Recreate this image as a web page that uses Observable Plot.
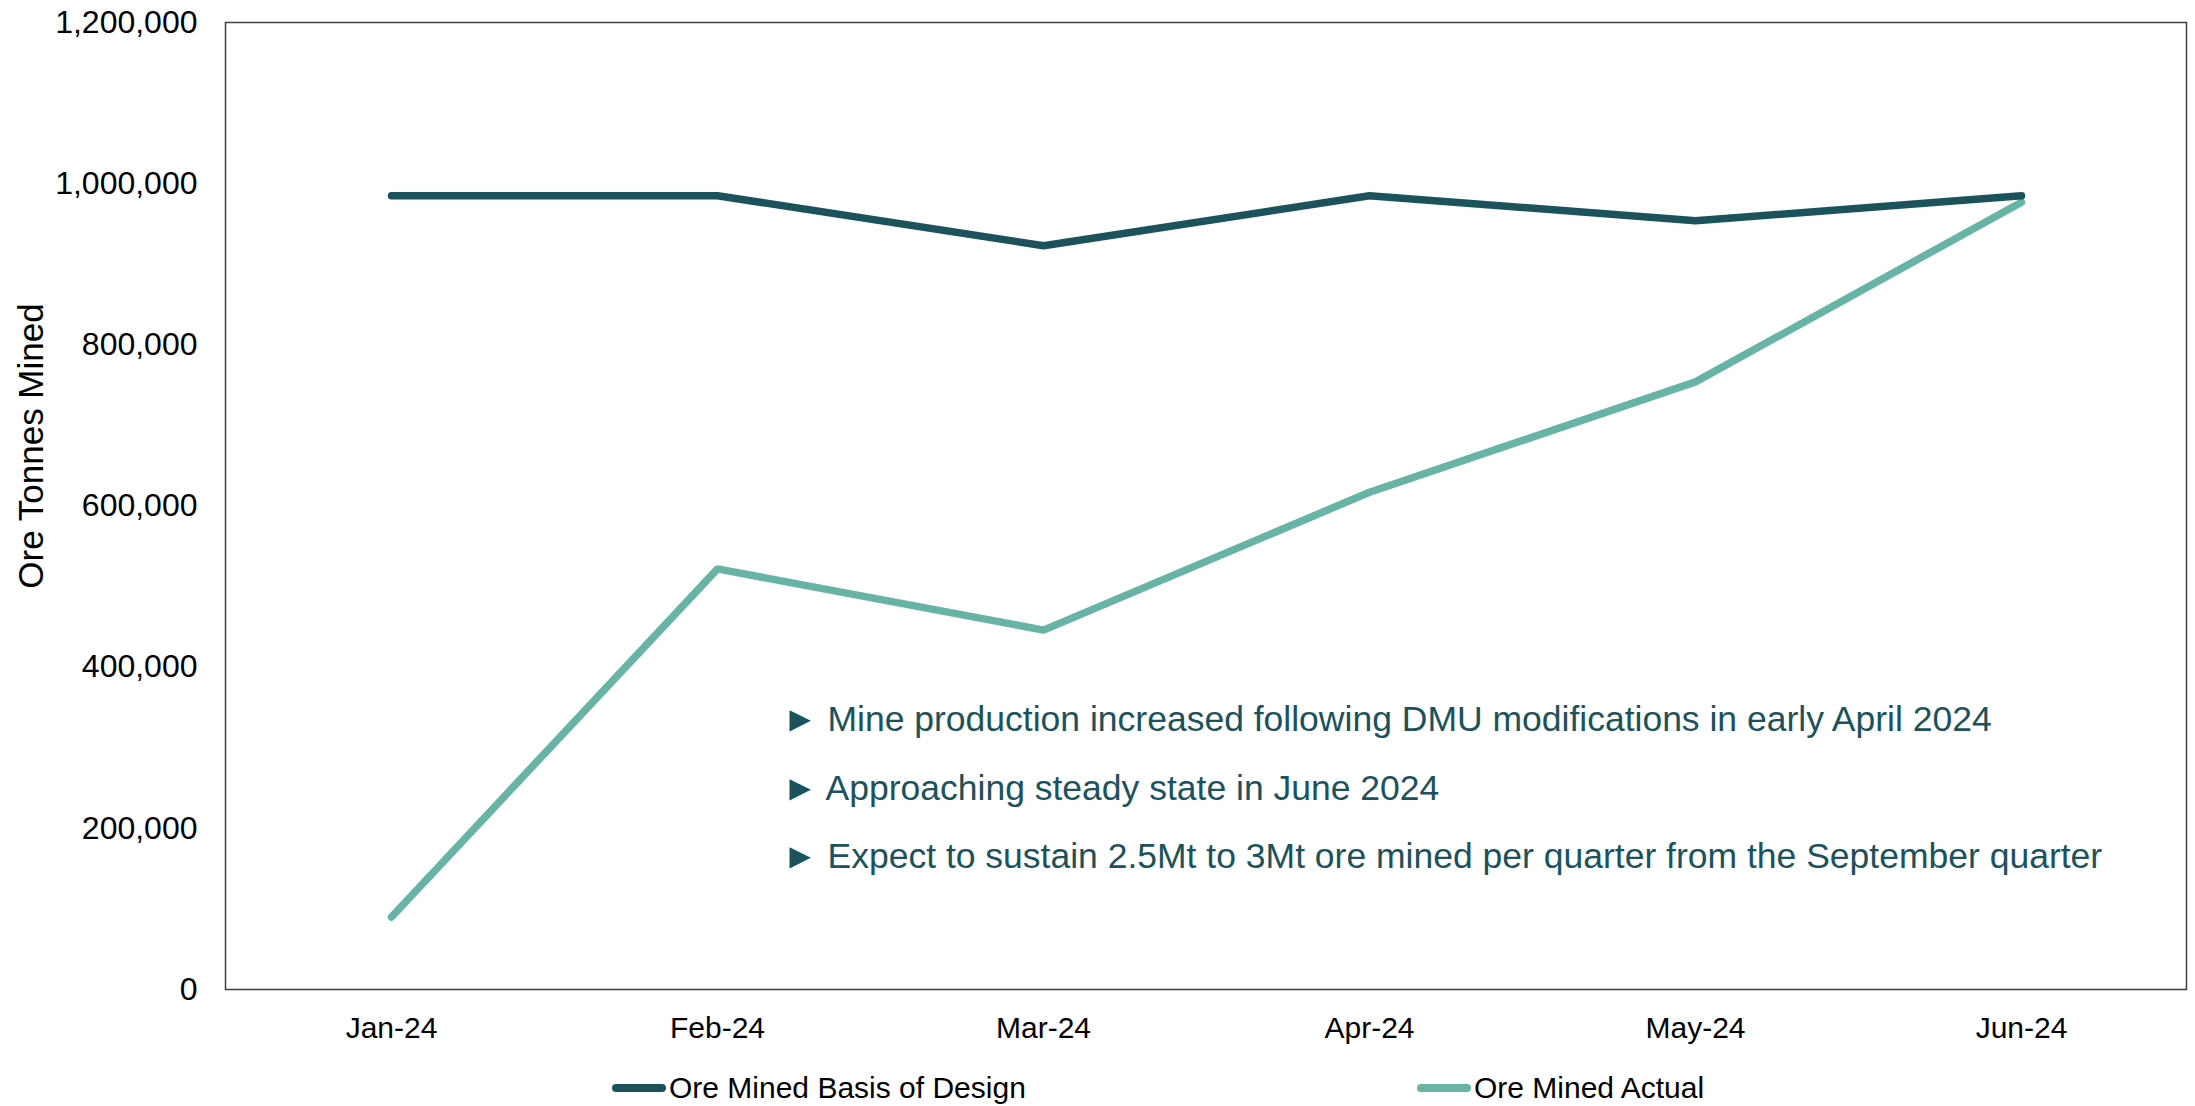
<!DOCTYPE html>
<html>
<head>
<meta charset="utf-8">
<script src="https://cdn.jsdelivr.net/npm/d3@7"></script>
<script src="https://cdn.jsdelivr.net/npm/@observablehq/plot@0.6"></script>
<style>
  html, body { margin: 0; padding: 0; background: #fff; }
  body { width: 2195px; height: 1106px; overflow: hidden; font-family: "Liberation Sans", Arial, sans-serif; }
  #legend { position: relative; height: 40px; width: 2195px; font-size: 30px; color: #000; }
  .item { position: absolute; top: 5px; display: flex; align-items: center; }
  .sw { width: 54px; height: 8px; border-radius: 4px; margin-right: 3px; }
</style>
</head>
<body>
<div id="chart"></div>
<div id="legend"></div>
<script>
const months = ["Jan-24", "Feb-24", "Mar-24", "Apr-24", "May-24", "Jun-24"];
const basisOfDesign = [985000, 985000, 923000, 985000, 954000, 985000];
const oreMinedActual = [90000, 522000, 446000, 617000, 754000, 977000];
const seriesNames = ["Ore Mined Basis of Design", "Ore Mined Actual"];
const seriesColors = ["#1B525B", "#67B3A6"];
const yTicks = [0, 200000, 400000, 600000, 800000, 1000000, 1200000];
const yTitle = "Ore Tonnes Mined";
const notes = [
  "Mine production increased following DMU modifications in early April 2024",
  "Approaching steady state in June 2024",
  "Expect to sustain 2.5Mt to 3Mt ore mined per quarter from the September quarter"
];

const designRows = months.map((m, i) => ({month: m, value: basisOfDesign[i]}));
const actualRows = months.map((m, i) => ({month: m, value: oreMinedActual[i]}));

const chart = Plot.plot({
  width: 2195,
  height: 1066,
  marginTop: 22,
  marginBottom: 77,
  marginLeft: 225,
  marginRight: 9,
  style: {fontFamily: "'Liberation Sans', Arial, sans-serif", fontSize: "30px", color: "#000", background: "#fff"},
  x: {type: "point", domain: months, padding: 0.5, label: null},
  y: {domain: [0, 1200000], label: null},
  marks: [
    Plot.frame({stroke: "#404040", strokeWidth: 1.5}),
    Plot.axisY({ticks: yTicks, tickFormat: d3.format(","), tickSize: 0, tickPadding: 28, label: null, fontSize: 32}),
    Plot.axisX({tickSize: 0, tickPadding: 27, label: null, fontSize: 30}),
    Plot.line(actualRows, {x: "month", y: "value", stroke: seriesColors[1], strokeWidth: 7.5, strokeLinejoin: "miter", strokeLinecap: "round"}),
    Plot.line(designRows, {x: "month", y: "value", stroke: seriesColors[0], strokeWidth: 7.5, strokeLinejoin: "miter", strokeLinecap: "round"}),
    Plot.text([yTitle], {frameAnchor: "left", text: d => d, textAnchor: "middle", rotate: -90, dx: -194, dy: -60, fontSize: 35, fill: "#000"}),
    Plot.text([notes.map(n => "\u25BA " + n).join("\n")], {
      frameAnchor: "top-left", text: d => d, textAnchor: "start", lineAnchor: "middle",
      dx: 557, dy: 755, lineHeight: 1.94, fontSize: 35.5, fill: "#1B525B"
    })
  ]
});
document.getElementById("chart").appendChild(chart);

const legend = document.getElementById("legend");
const legendLeft = [612, 1417];
seriesNames.forEach((name, i) => {
  const item = document.createElement("div");
  item.className = "item";
  item.style.left = legendLeft[i] + "px";
  const sw = document.createElement("span");
  sw.className = "sw";
  sw.style.background = seriesColors[i];
  const lab = document.createElement("span");
  lab.textContent = name;
  item.appendChild(sw);
  item.appendChild(lab);
  legend.appendChild(item);
});
</script>
</body>
</html>
